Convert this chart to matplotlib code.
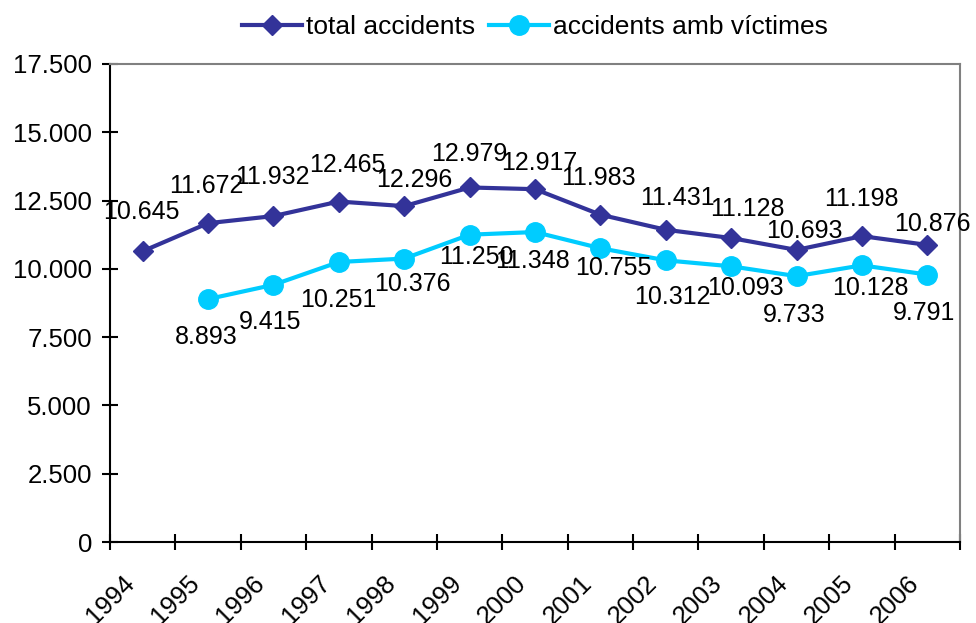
import matplotlib
matplotlib.use("Agg")
import matplotlib.pyplot as plt
import numpy as np
from matplotlib.ticker import FuncFormatter

plt.rcParams['font.family'] = ['Liberation Sans', 'DejaVu Sans']

# Data
years = ['1994', '1995', '1996', '1997', '1998', '1999', '2000',
         '2001', '2002', '2003', '2004', '2005', '2006']
total_accidents = [10645, 11672, 11932, 12465, 12296, 12979, 12917,
                   11983, 11431, 11128, 10693, 11198, 10876]
accidents_victims = [np.nan, 8893, 9415, 10251, 10376, 11250, 11348,
                     10755, 10312, 10093, 9733, 10128, 9791]

# Label offsets in pixels (dx, dy screen-down) as placed in the original
total_offsets = [(-1.5, -39.5), (-1.5, -37), (-1, -39), (8, -37), (10, -26),
                 (-0.5, -33), (4.5, -26), (-1.5, -37), (12, -32), (16, -29),
                 (7.5, -19), (-0.5, -37.5), (5, -21)]
victim_offsets = [None, (-1.5, 38), (-3, 37.5), (-0.5, 38), (8, 25.5),
                  (6.5, 22.5), (-2.5, 29), (13, 20), (7, 37), (14.5, 22),
                  (-2.5, 39), (8.5, 23), (-3.5, 38.5)]

dark_blue = '#333399'
cyan = '#00CCFF'


def fmt_thousands(v, pos):
    return f"{int(v):,}".replace(",", ".")


fig = plt.figure(figsize=(9.76, 6.23), dpi=100)
ax = fig.add_axes([0.1127, 0.1300, 0.8709, 0.7673])

x = np.arange(len(years))
ax.plot(x, total_accidents, color=dark_blue, lw=3, marker='D', ms=10,
        label='total accidents')
ax.plot(x, accidents_victims, color=cyan, lw=3, marker='o', ms=14,
        label='accidents amb víctimes')

for i, v in enumerate(total_accidents):
    dx, dy = total_offsets[i]
    ax.annotate(fmt_thousands(v, None), (x[i], v), xytext=(dx, -dy),
                textcoords='offset pixels', ha='center', va='center',
                fontsize=18, annotation_clip=False)
for i, v in enumerate(accidents_victims):
    if victim_offsets[i] is None:
        continue
    dx, dy = victim_offsets[i]
    ax.annotate(fmt_thousands(v, None), (x[i], v), xytext=(dx, -dy),
                textcoords='offset pixels', ha='center', va='center',
                fontsize=18, annotation_clip=False)

ax.set_xlim(-0.5, len(years) - 0.5)
ax.set_ylim(0, 17500)
ax.set_yticks(np.arange(0, 17501, 2500))
ax.yaxis.set_major_formatter(FuncFormatter(fmt_thousands))

ax.set_xticks(np.arange(len(years) + 1) - 0.5)
ax.set_xticklabels(years + [''], rotation=45, ha='center')

ax.tick_params(axis='both', direction='inout', length=12, width=1.5,
               labelsize=18.5, color='black')
ax.tick_params(axis='y', pad=7)
ax.tick_params(axis='x', pad=15)

for side in ['left', 'bottom']:
    ax.spines[side].set_color('black')
    ax.spines[side].set_linewidth(1.5)
for side in ['top', 'right']:
    ax.spines[side].set_color('#808080')
    ax.spines[side].set_linewidth(1.5)

fig.legend(loc='center', bbox_to_anchor=(0.548, 0.957), ncol=2, frameon=False,
           fontsize=19, handlelength=2.3, handletextpad=0.15,
           columnspacing=0.5)

fig.savefig('out.png', dpi=100)
